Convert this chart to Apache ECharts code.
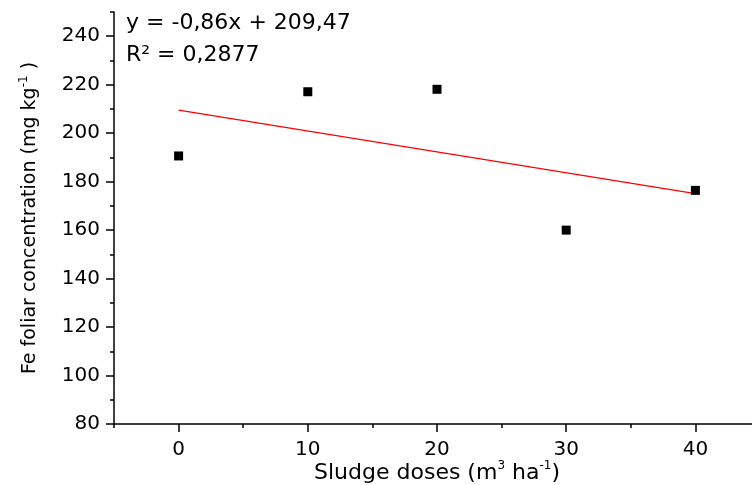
<!DOCTYPE html>
<html>
<head>
<meta charset="utf-8">
<script src="https://cdn.jsdelivr.net/npm/echarts@6/dist/echarts.min.js"></script>
<style>
html,body{margin:0;padding:0;background:#fff;}
#chart{width:752px;height:485px;}
</style>
</head>
<body>
<div id="chart"></div>
<script>
// Data
var doses = [0, 10, 20, 30, 40];
var feValues = [190.6, 217.1, 218.1, 160.0, 176.4];
var trendX = [0, 40];
var trendY = [209.47, 175.07];
var xTickLabels = [0, 10, 20, 30, 40];
var xMinorTicks = [-5, 5, 15, 25, 35, 45];
var yTickLabels = [80, 100, 120, 140, 160, 180, 200, 220, 240];
var yMinorTicks = [90, 110, 130, 150, 170, 190, 210, 230, 250];
var equationText = 'y = -0,86x + 209,47';
var r2Text = 'R\u00b2 = 0,2877';

var FONT = '"DejaVu Sans", "Liberation Sans", sans-serif';
var chart = echarts.init(document.getElementById('chart'), null, {renderer: 'canvas'});

var scatterData = doses.map(function (d, i) { return [d, feValues[i]]; });
var trendData = trendX.map(function (d, i) { return [d, trendY[i]]; });

var supRich = {
  sup: {fontSize: 12, fontFamily: FONT, color: '#000', verticalAlign: 'top', lineHeight: 12}
};

function tickAxis(min, max, pos, values, len) {
  return {
    type: 'value', min: min, max: max, position: pos,
    axisLine: {show: false, onZero: false},
    axisTick: {show: true, inside: false, length: len, lineStyle: {color: '#000', width: 1.5}, customValues: values},
    axisLabel: {show: false},
    splitLine: {show: false}
  };
}

var option = {
  animation: false,
  backgroundColor: '#fff',
  grid: {left: 114, top: 12, right: -8, bottom: 61, containLabel: false, outerBoundsMode: 'none'},
  xAxis: [{
    type: 'value', min: -5, max: 45,
    position: 'bottom',
    axisLine: {show: true, onZero: false, lineStyle: {color: '#000', width: 1.5}},
    axisTick: {show: false},
    axisLabel: {show: true, margin: 16, color: '#000', fontSize: 20, fontFamily: FONT, customValues: xTickLabels},
    splitLine: {show: false},
    name: 'Sludge doses (m{sup|3} ha{sup|-1})',
    nameLocation: 'middle', nameGap: 36, nameMoveOverlap: false,
    nameTextStyle: {color: '#000', fontSize: 22, fontFamily: FONT, lineHeight: 26, rich: supRich}
  },
    tickAxis(-5, 45, 'bottom', xTickLabels, 8),
    tickAxis(-5, 45, 'bottom', xMinorTicks, 4)
  ],
  yAxis: [{
    type: 'value', min: 80, max: 250,
    position: 'left',
    axisLine: {show: true, onZero: false, lineStyle: {color: '#000', width: 1.5}},
    axisTick: {show: false},
    axisLabel: {show: true, margin: 14, color: '#000', fontSize: 20, fontFamily: FONT, customValues: yTickLabels},
    splitLine: {show: false},
    name: 'Fe foliar concentration (mg kg{sup|-1} )',
    nameLocation: 'middle', nameGap: 72, nameRotate: 90, nameMoveOverlap: false,
    nameTextStyle: {color: '#000', fontSize: 19, fontFamily: FONT, lineHeight: 24, rich: supRich}
  },
    tickAxis(80, 250, 'left', yTickLabels, 8),
    tickAxis(80, 250, 'left', yMinorTicks, 4)
  ],
  series: [{
    type: 'line',
    data: trendData,
    xAxisIndex: 0, yAxisIndex: 0,
    showSymbol: false, symbol: 'none',
    lineStyle: {color: '#ff0000', width: 1.3},
    z: 2, silent: true
  }, {
    type: 'scatter',
    data: scatterData,
    xAxisIndex: 0, yAxisIndex: 0,
    symbol: 'rect', symbolSize: 9,
    itemStyle: {color: '#000', opacity: 1},
    z: 3
  }],
  graphic: [{
    type: 'text', left: 126, top: 12,
    style: {text: equationText, fill: '#000', font: '22px ' + FONT}
  }, {
    type: 'text', left: 126, top: 44,
    style: {text: r2Text, fill: '#000', font: '22px ' + FONT}
  }]
};
chart.setOption(option);
</script>
</body>
</html>
